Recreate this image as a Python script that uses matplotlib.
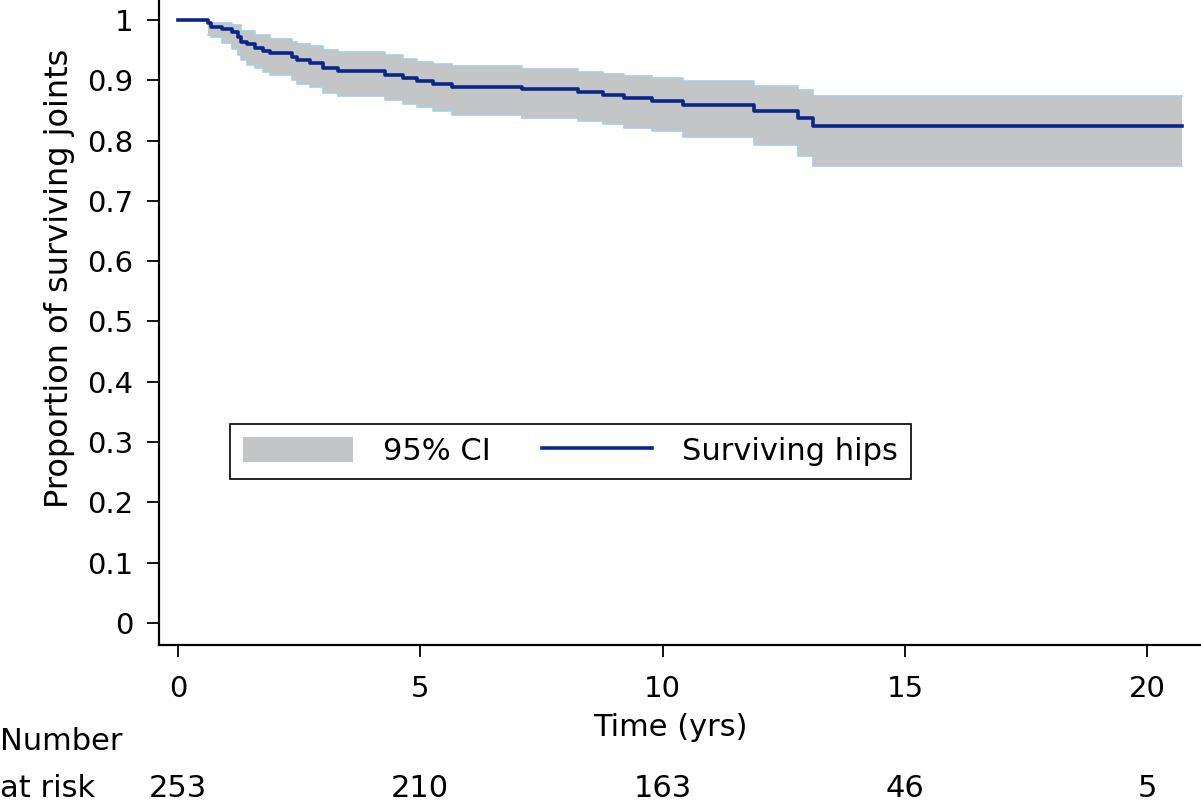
import numpy as np
import matplotlib
matplotlib.use("Agg")
import matplotlib.pyplot as plt
from matplotlib.patches import Patch
from matplotlib.lines import Line2D

plt.rcParams['font.family'] = ['DejaVu Sans']

# Kaplan-Meier estimate
times = [0, 0.63, 0.69, 0.90, 1.11, 1.25, 1.31, 1.42, 1.59, 1.76, 1.90, 2.35, 2.45,
         2.72, 3.00, 3.31, 4.27, 4.65, 4.93, 5.27, 5.65, 7.10, 8.26, 8.77, 9.21,
         9.79, 10.43, 11.89, 12.79, 13.10, 20.71]
surv = [1.0, 0.9955, 0.989, 0.985, 0.980, 0.972, 0.964, 0.960, 0.953, 0.949, 0.945,
        0.938, 0.933, 0.929, 0.920, 0.915, 0.909, 0.903, 0.898, 0.893, 0.889, 0.885,
        0.880, 0.876, 0.870, 0.866, 0.859, 0.849, 0.837, 0.824, 0.824]
# 95% CI (no band at t=0)
upper = [np.nan, 0.9945, 0.9945, 0.9945, 0.992, 0.992, 0.981, 0.981, 0.975, 0.975,
         0.968, 0.964, 0.960, 0.956, 0.950, 0.946, 0.942, 0.935, 0.931, 0.927, 0.924,
         0.919, 0.914, 0.910, 0.907, 0.903, 0.898, 0.891, 0.883, 0.874, 0.874]
lower = [np.nan, 0.975, 0.972, 0.961, 0.951, 0.942, 0.934, 0.925, 0.920, 0.914, 0.909,
         0.900, 0.894, 0.888, 0.878, 0.873, 0.867, 0.861, 0.855, 0.849, 0.842, 0.838,
         0.833, 0.827, 0.821, 0.816, 0.806, 0.793, 0.774, 0.758, 0.758]

risk_times = [0, 5, 10, 15, 20]
at_risk = ["253", "210", "163", "46", "5"]

navy = "#0b2689"
band = "#c4c5c7"
edge = "#a9cfe4"
fs = 22

fig = plt.figure(figsize=(12.01, 8.06), dpi=100)
ax = fig.add_axes([159/1201, 1-645/806, 1-159/1201, 645/806])

t = np.array(times)
ax.fill_between(t[1:], lower[1:], upper[1:], step='post', color=band, lw=0, zorder=1)
ax.step(t[1:], upper[1:], where='post', color=edge, lw=1.2, zorder=2)
ax.step(t[1:], lower[1:], where='post', color=edge, lw=1.2, zorder=2)
ax.step(t, surv, where='post', color=navy, lw=2.6, zorder=3)

ax.set_xlim(-0.39, 21.11)
ax.set_ylim(-0.0365, 1.033)
ax.set_xticks(risk_times)
ax.set_yticks(np.arange(0, 1.01, 0.1))
ax.set_yticklabels(["0"] + ["%.1f" % v for v in np.arange(0.1, 0.95, 0.1)] + ["1"])
for s in ['top', 'right']:
    ax.spines[s].set_visible(False)
for s in ['left', 'bottom']:
    ax.spines[s].set_linewidth(1.6)
ax.tick_params(axis='both', direction='out', length=8.6, width=1.3, labelsize=21, pad=10)
ax.tick_params(axis='x', pad=13)

ax.set_ylabel("Proportion of surviving joints", fontsize=23)
ax.yaxis.set_label_coords(-0.081, (645-278)/645)
ax.set_xlabel("Time (yrs)", fontsize=fs)
ax.xaxis.set_label_coords((670-159)/1042, (645-713)/645)

handles = [Patch(facecolor=band, edgecolor='none'),
           Line2D([], [], color=navy, lw=2.6)]
leg = ax.legend(handles, ["95% CI", "Surviving hips"], ncol=2, loc='upper left',
                bbox_to_anchor=(71/1042, (645-424)/645), borderaxespad=0, fontsize=fs,
                fancybox=False, edgecolor='black', framealpha=1,
                handlelength=3.6, handleheight=0.9, columnspacing=1.65,
                handletextpad=1.0, borderpad=0.42)
leg.get_frame().set_linewidth(1.2)

# number at risk table
fig.text(0.0, 1-750/806, "Number", fontsize=fs, va='baseline', ha='left')
fig.text(0.0, 1-797/806, "at risk", fontsize=fs, va='baseline', ha='left')
for x, n in zip(risk_times, at_risk):
    ax.text(x, (645-797)/645, n, transform=ax.get_xaxis_transform(),
            fontsize=fs, ha='center', va='baseline', clip_on=False)

fig.savefig("out.png", dpi=100)
